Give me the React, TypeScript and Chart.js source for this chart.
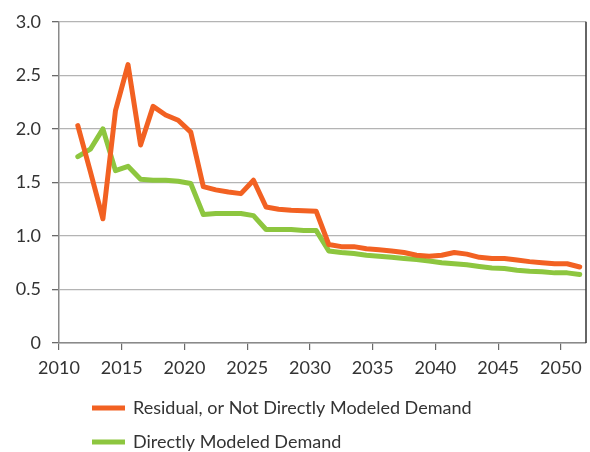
import React, { useEffect, useRef } from "react";
import { Chart, registerables } from "chart.js";

Chart.register(...registerables);

const years = [
  2011.5, 2012.5, 2013.5, 2014.5, 2015.5, 2016.5, 2017.5, 2018.5, 2019.5, 2020.5,
  2021.5, 2022.5, 2023.5, 2024.5, 2025.5, 2026.5, 2027.5, 2028.5, 2029.5, 2030.5,
  2031.5, 2032.5, 2033.5, 2034.5, 2035.5, 2036.5, 2037.5, 2038.5, 2039.5, 2040.5,
  2041.5, 2042.5, 2043.5, 2044.5, 2045.5, 2046.5, 2047.5, 2048.5, 2049.5, 2050.5,
  2051.5,
];

const residual = [
  2.03, 1.6, 1.16, 2.17, 2.6, 1.85, 2.21, 2.13, 2.08, 1.97,
  1.46, 1.43, 1.41, 1.395, 1.52, 1.27, 1.25, 1.24, 1.235, 1.23,
  0.92, 0.9, 0.9, 0.88, 0.87, 0.86, 0.845, 0.82, 0.81, 0.82,
  0.845, 0.83, 0.8, 0.79, 0.79, 0.775, 0.76, 0.75, 0.74, 0.74,
  0.71,
];

const direct = [
  1.74, 1.81, 2.0, 1.61, 1.65, 1.53, 1.52, 1.52, 1.51, 1.49,
  1.2, 1.21, 1.21, 1.21, 1.19, 1.06, 1.06, 1.06, 1.05, 1.05,
  0.86, 0.845, 0.835, 0.82, 0.81, 0.8, 0.79, 0.78, 0.765, 0.75,
  0.74, 0.73, 0.715, 0.7, 0.695, 0.68, 0.67, 0.665, 0.655, 0.655,
  0.64,
];

const seriesLabels = ["Residual, or Not Directly Modeled Demand", "Directly Modeled Demand"];
const seriesColors = ["#F26122", "#8DC63F"];

const xTicks = [2010, 2015, 2020, 2025, 2030, 2035, 2040, 2045, 2050];
const yTicks = [0, 0.5, 1.0, 1.5, 2.0, 2.5, 3.0];
const yTickLabels = ["0", "0.5", "1.0", "1.5", "2.0", "2.5", "3.0"];

const FONT = "Lato, 'Open Sans', sans-serif";

const frameAndLegend = {
  id: "frameAndLegend",
  afterDraw(chart: any) {
    const { ctx, chartArea } = chart;
    ctx.save();
    // right border
    ctx.strokeStyle = "#333333";
    ctx.lineWidth = 1.5;
    ctx.beginPath();
    ctx.moveTo(chartArea.right, chartArea.top);
    ctx.lineTo(chartArea.right, chartArea.bottom);
    ctx.stroke();
    // legend
    const rows = [408, 442];
    chart.data.datasets.forEach((ds: any, i: number) => {
      const y = rows[i];
      ctx.strokeStyle = ds.borderColor;
      ctx.lineWidth = 5;
      ctx.lineCap = "butt";
      ctx.beginPath();
      ctx.moveTo(92, y);
      ctx.lineTo(125, y);
      ctx.stroke();
      ctx.fillStyle = "#333333";
      ctx.font = "18px " + FONT;
      ctx.textBaseline = "middle";
      ctx.textAlign = "left";
      ctx.fillText(ds.label, 133, y);
    });
    ctx.restore();
  },
};

export default function App() {
  const ref = useRef<HTMLCanvasElement | null>(null);

  useEffect(() => {
    document.body.style.margin = "0";
    const canvas = ref.current;
    if (!canvas) return;
    const chart = new Chart(canvas, {
      type: "line",
      data: {
        datasets: [
          {
            label: seriesLabels[0],
            data: years.map((x, i) => ({ x, y: residual[i] })),
            borderColor: seriesColors[0],
            backgroundColor: seriesColors[0],
            borderWidth: 5,
            pointRadius: 0,
            tension: 0,
            borderJoinStyle: "round",
            borderCapStyle: "round",
          },
          {
            label: seriesLabels[1],
            data: years.map((x, i) => ({ x, y: direct[i] })),
            borderColor: seriesColors[1],
            backgroundColor: seriesColors[1],
            borderWidth: 5,
            pointRadius: 0,
            tension: 0,
            borderJoinStyle: "round",
            borderCapStyle: "round",
          },
        ],
      },
      options: {
        responsive: false,
        animation: false,
        layout: { padding: { top: 19, right: 4, left: 0, bottom: 0 } },
        plugins: {
          legend: { display: false },
          tooltip: { enabled: false },
        },
        scales: {
          x: {
            type: "linear",
            min: 2010,
            max: 2052,
            afterBuildTicks: (scale: any) => {
              scale.ticks = xTicks.map((v) => ({ value: v }));
            },
            afterFit: (scale: any) => {
              scale.height = 109;
            },
            border: { display: true, color: "#8a8a8a", width: 1.5 },
            grid: {
              drawOnChartArea: false,
              drawTicks: true,
              tickLength: 7,
              color: "#6a6a6a",
              lineWidth: 1.2,
            },
            ticks: {
              padding: 7,
              color: "#333333",
              font: { family: FONT, size: 18 },
              maxRotation: 0,
              autoSkip: false,
              callback: (v: any) => String(v),
            },
          },
          y: {
            type: "linear",
            min: 0,
            max: 3,
            afterBuildTicks: (scale: any) => {
              scale.ticks = yTicks.map((v) => ({ value: v }));
            },
            afterFit: (scale: any) => {
              scale.width = 59;
            },
            border: { display: true, color: "#8a8a8a", width: 1.5 },
            grid: {
              color: "#b4b4b4",
              lineWidth: 1.3,
              drawTicks: true,
              tickLength: 7,
              tickColor: "#6a6a6a",
            },
            ticks: {
              padding: 11,
              color: "#333333",
              font: { family: FONT, size: 18 },
              callback: (v: any) => {
                const i = yTicks.indexOf(Number(v));
                return i >= 0 ? yTickLabels[i] : "";
              },
            },
          },
        },
      },
      plugins: [frameAndLegend],
    } as any);
    return () => chart.destroy();
  }, []);

  return (
    <div style={{ width: 590, height: 452 }}>
      <canvas ref={ref} width={590} height={452} style={{ display: "block" }} />
    </div>
  );
}
